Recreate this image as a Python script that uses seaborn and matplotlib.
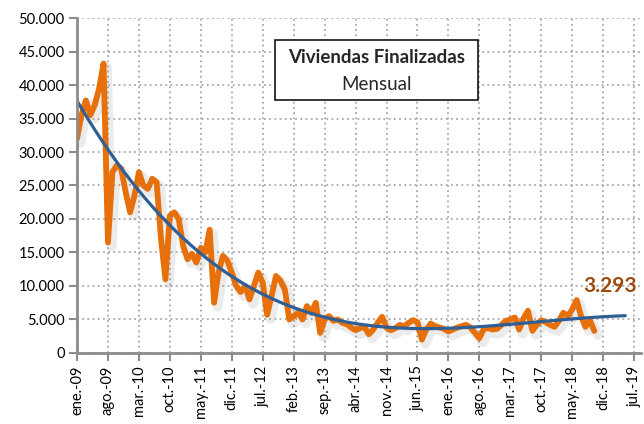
import numpy as np
import pandas as pd
import seaborn as sns
import matplotlib
matplotlib.use('Agg')
import matplotlib.pyplot as plt
import matplotlib.patheffects as pe
from matplotlib.patches import Rectangle
from matplotlib.ticker import FuncFormatter

# viviendas finalizadas, mensual, ene.-09 .. oct.-18
viviendas = [32000, 35500, 37700, 35500, 37000, 39500, 43200, 16500, 27000, 28000,
             27500, 24000, 21000, 23500, 27000, 25000, 24500, 26000, 25500, 17000,
             11000, 20500, 21000, 20000, 16000, 14000, 14800, 13500, 15700, 15000,
             18400, 7500, 12000, 14500, 13800, 12000, 10000, 9100, 10000, 8000,
             10000, 12000, 10500, 5700, 8500, 11500, 10800, 9500, 5000, 5500,
             6000, 5000, 7000, 6000, 7500, 3000, 5000, 5500, 4800, 5000,
             4500, 4300, 3800, 3400, 3700, 3900, 2800, 3500, 4500, 5400,
             3800, 3400, 3700, 4200, 4000, 4500, 4900, 4600, 2000, 3500,
             4400, 4000, 3800, 3600, 3200, 3500, 3800, 4000, 4200, 3800,
             3000, 2200, 3600, 3700, 3500, 3600, 4200, 4800, 5000, 5300,
             3500, 5200, 6300, 3300, 4200, 4900, 4600, 4200, 3900, 4800,
             6000, 5500, 6500, 7900, 5500, 3900, 4900, 3293]
meses = list(range(len(viviendas)))

etiquetas = ['ene.-09', 'ago.-09', 'mar.-10', 'oct.-10', 'may.-11', 'dic.-11', 'jul.-12',
             'feb.-13', 'sep.-13', 'abr.-14', 'nov.-14', 'jun.-15', 'ene.-16', 'ago.-16',
             'mar.-17', 'oct.-17', 'may.-18', 'dic.-18', 'jul.-19']

data = pd.DataFrame({'mes': meses, 'viviendas': viviendas})

# tendencia polinomica con 7 meses de prevision
coef = np.polyfit(data['mes'], data['viviendas'], 4)
mes_t = np.arange(0, len(viviendas) + 7)
tendencia = pd.DataFrame({'mes': mes_t, 'valor': np.polyval(coef, mes_t)})

sns.set_style('white')
plt.rcParams['font.family'] = ['Lato', 'DejaVu Sans']

fig = plt.figure(figsize=(6.44, 4.24), dpi=100)
ax = fig.add_axes([0.1196, 0.1675, 0.876, 0.79])

sns.lineplot(data=data, x='mes', y='viviendas', ax=ax, color='#E8700A', lw=4.2,
             solid_joinstyle='round', solid_capstyle='round',
             path_effects=[pe.SimpleLineShadow(offset=(2.5, -3), shadow_color='#777777',
                                               alpha=0.14, linewidth=7),
                           pe.Normal()])
sns.lineplot(data=tendencia, x='mes', y='valor', ax=ax, color='#2F5F94', lw=2.3)

ax.set_xlim(0, 127.6)
ax.set_ylim(0, 50000)
ax.set_yticks(range(0, 50001, 5000))
ax.yaxis.set_major_formatter(FuncFormatter(lambda v, p: f'{int(v):,}'.replace(',', '.')))
ax.set_xticks(range(0, 127, 7))
ax.set_xticklabels(etiquetas, rotation=90)
ax.set_xlabel('')
ax.set_ylabel('')

ax.grid(True, ls=(0, (1.2, 2.2)), color='#9a9a9a', lw=1.1)
ax.set_axisbelow(True)
for s in ['top', 'right']:
    ax.spines[s].set_visible(False)
for s in ['left', 'bottom']:
    ax.spines[s].set_color('#8c8c8c')
    ax.spines[s].set_linewidth(2)
ax.tick_params(axis='both', which='major', length=6, width=1.5, color='#8c8c8c',
               labelsize=10.5, labelcolor='black', pad=3, left=True, bottom=True)

# recuadro del titulo
ax.add_patch(Rectangle((0.351, 0.755), 0.36, 0.179, transform=ax.transAxes,
                       facecolor='white', edgecolor='black', lw=1.1, zorder=5))
ax.text(0.531, 0.881, 'Viviendas Finalizadas', transform=ax.transAxes, ha='center',
        va='center', fontsize=13.5, fontweight='bold', zorder=6)
ax.text(0.531, 0.803, 'Mensual', transform=ax.transAxes, ha='center', va='center',
        fontsize=13.5, zorder=6)

# ultimo dato
ultimo = viviendas[-1]
ax.annotate(f'{ultimo:,}'.replace(',', '.'), xy=(meses[-1], ultimo), xytext=(11, 32),
            textcoords='offset points', ha='center', va='center', fontsize=15,
            fontweight='bold', color='#9C4A0E')

fig.savefig('out.png', dpi=100)
